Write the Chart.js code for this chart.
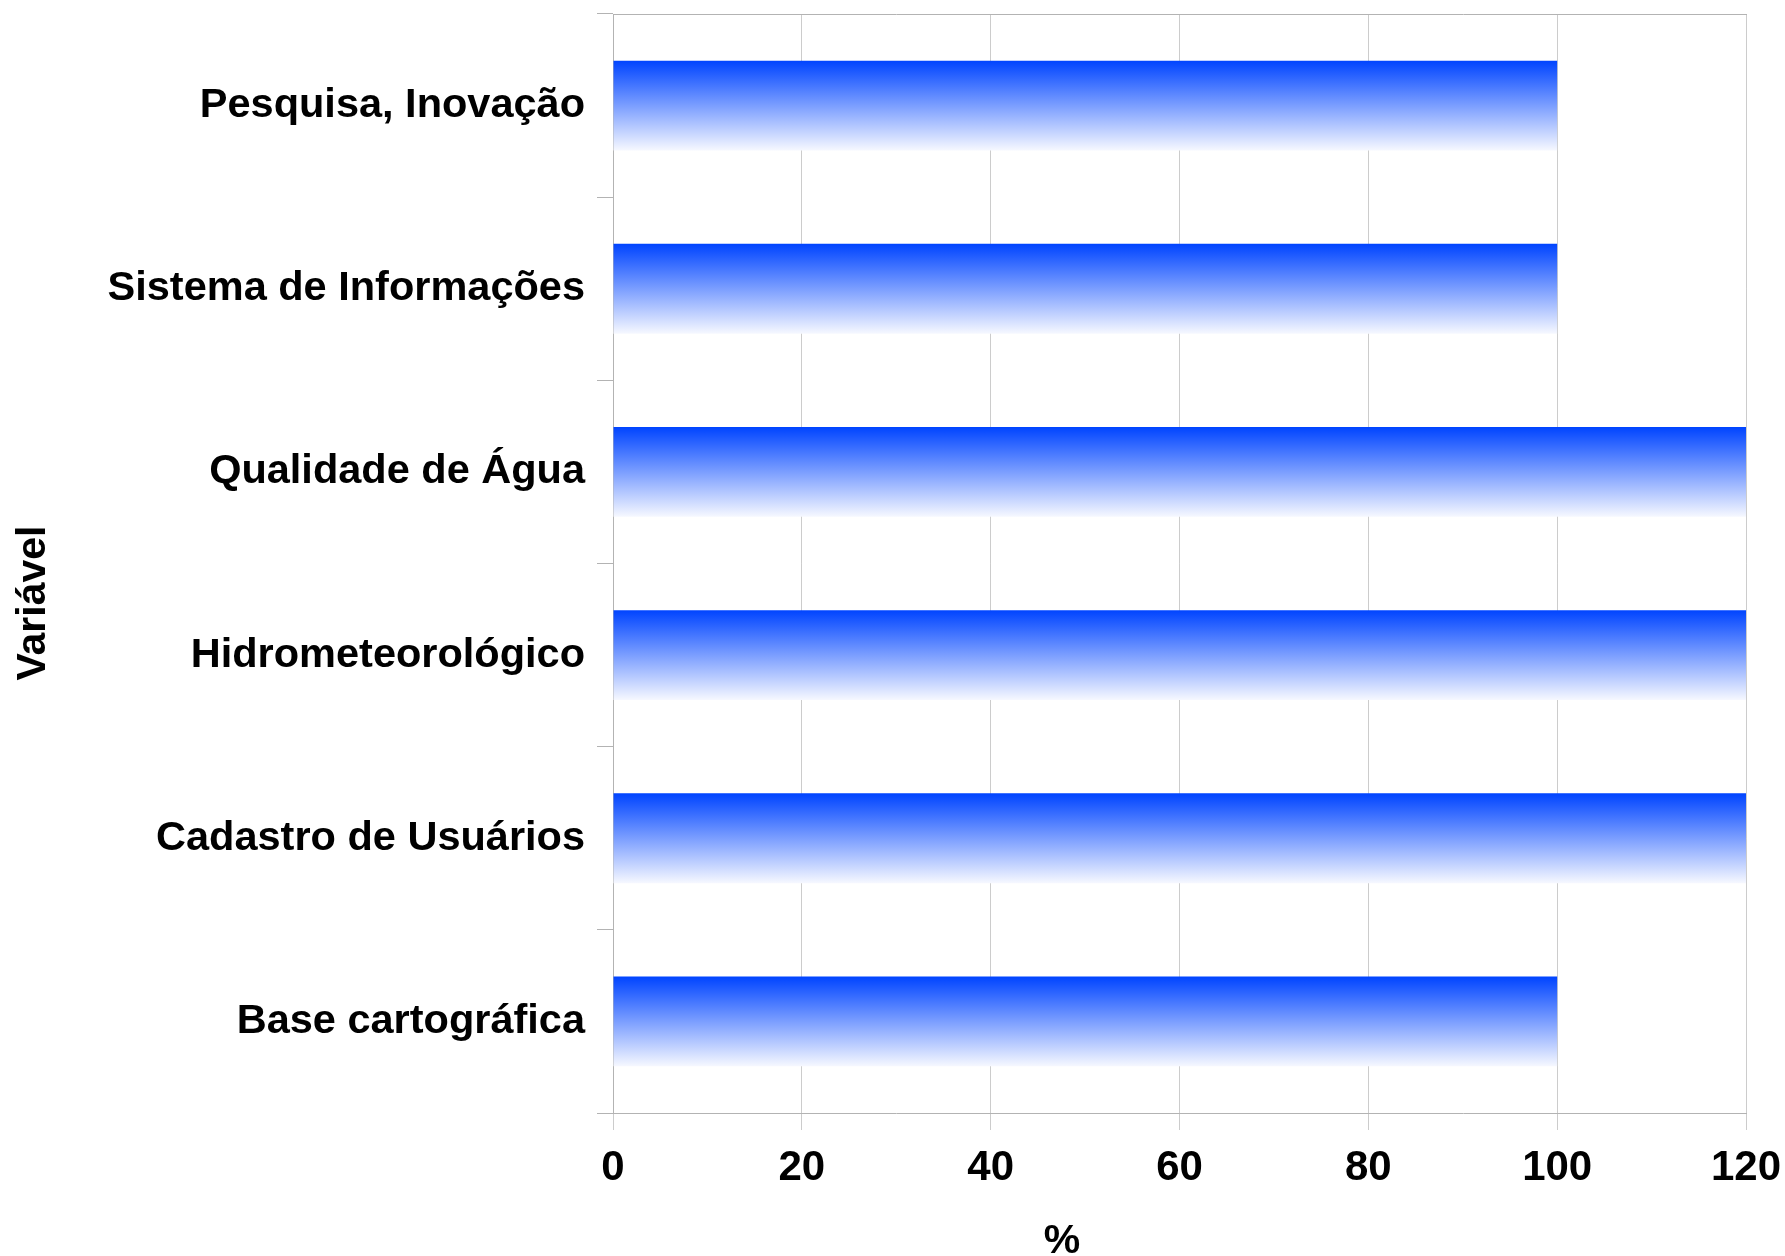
<!DOCTYPE html>
<html>
<head>
<meta charset="utf-8">
<script src="https://cdn.jsdelivr.net/npm/chart.js@4/dist/chart.umd.min.js"></script>
<style>
  html, body { margin: 0; padding: 0; background: #fff; }
  #wrap { width: 1785px; height: 1256px; }
</style>
</head>
<body>
<div id="wrap"><canvas id="chart"></canvas></div>
<script>
// data
const categories = ["Pesquisa, Inovação", "Sistema de Informações", "Qualidade de Água",
    "Hidrometeorológico", "Cadastro de Usuários", "Base cartográfica"];
const percentValues = [100, 100, 120, 120, 120, 100];
const xTicks = [0, 20, 40, 60, 80, 100, 120];
const xTitle = "%";
const yTitle = "Variável";

const blueTop = '#0044ff';
const fadeBottom = '#f6f8ff';

Chart.defaults.font.family = "'Liberation Sans', Arial, sans-serif";
Chart.defaults.font.weight = 'bold';
Chart.defaults.font.size = 42;
Chart.defaults.color = '#000';

// vertical gradient per bar, from the category scale
function barFill(ctx) {
    const chart = ctx.chart;
    const ys = chart.scales.y;
    if (!ys || !chart.chartArea) return blueTop;
    const c = ys.getPixelForValue(ctx.dataIndex);
    const half = (ys.height / categories.length) * 0.49 / 2;
    const g = chart.ctx.createLinearGradient(0, c - half, 0, c + half);
    g.addColorStop(0, blueTop);
    g.addColorStop(1, fadeBottom);
    return g;
}

// axis titles placed where the original has them
const axisTitles = {
    id: 'axisTitles',
    afterDraw(chart) {
        const c = chart.ctx;
        c.save();
        c.fillStyle = '#000';
        c.font = "bold 41px 'Liberation Sans', Arial, sans-serif";
        c.textAlign = 'center';
        c.textBaseline = 'middle';
        c.fillText(xTitle, 1062, 1242);
        c.translate(34, 603);
        c.rotate(-Math.PI / 2);
        c.fillText(yTitle, 0, 0);
        c.restore();
    }
};

const chartData = {
    labels: categories,
    datasets: [{
        data: percentValues,
        backgroundColor: barFill,
        borderWidth: 0,
        categoryPercentage: 0.5,
        barPercentage: 0.98
    }]
};

const chartOptions = {
    indexAxis: 'y',
    responsive: true,
    maintainAspectRatio: false,
    animation: false,
    layout: { padding: { top: 14, right: 39, left: 0, bottom: 0 } },
    plugins: {
        legend: { display: false },
        tooltip: { enabled: false }
    },
    scales: {
        x: {
            type: 'linear',
            min: xTicks[0],
            max: xTicks[xTicks.length - 1],
            z: 1,
            afterBuildTicks: s => { s.ticks = xTicks.map(v => ({ value: v })); },
            afterFit: s => { s.height = 143; s.paddingLeft = 0; s.paddingRight = 0; },
            ticks: { padding: 13, maxRotation: 0 },
            grid: { color: 'rgba(0,0,0,0.2)', tickLength: 17, lineWidth: 1 },
            border: { color: '#b3b3b3', width: 1 }
        },
        xTop: {
            type: 'linear',
            position: 'top',
            min: 0,
            max: 120,
            afterFit: s => { s.height = 0; s.paddingLeft = 0; s.paddingRight = 0; },
            ticks: { display: false },
            grid: { display: false, drawTicks: false },
            border: { display: true, color: '#b3b3b3', width: 1 }
        },
        y: {
            afterFit: s => { s.width = 613; s.paddingTop = 0; s.paddingBottom = 0; },
            ticks: { padding: 12, crossAlign: 'near', font: { size: 41.5 } },
            grid: {
                offset: true,
                drawOnChartArea: false,
                tickLength: 16,
                color: '#b3b3b3'
            },
            border: { color: '#b3b3b3', width: 1 }
        }
    }
};

new Chart(document.getElementById('chart'), {
    type: 'bar',
    data: chartData,
    options: chartOptions,
    plugins: [axisTitles]
});
</script>
</body>
</html>
